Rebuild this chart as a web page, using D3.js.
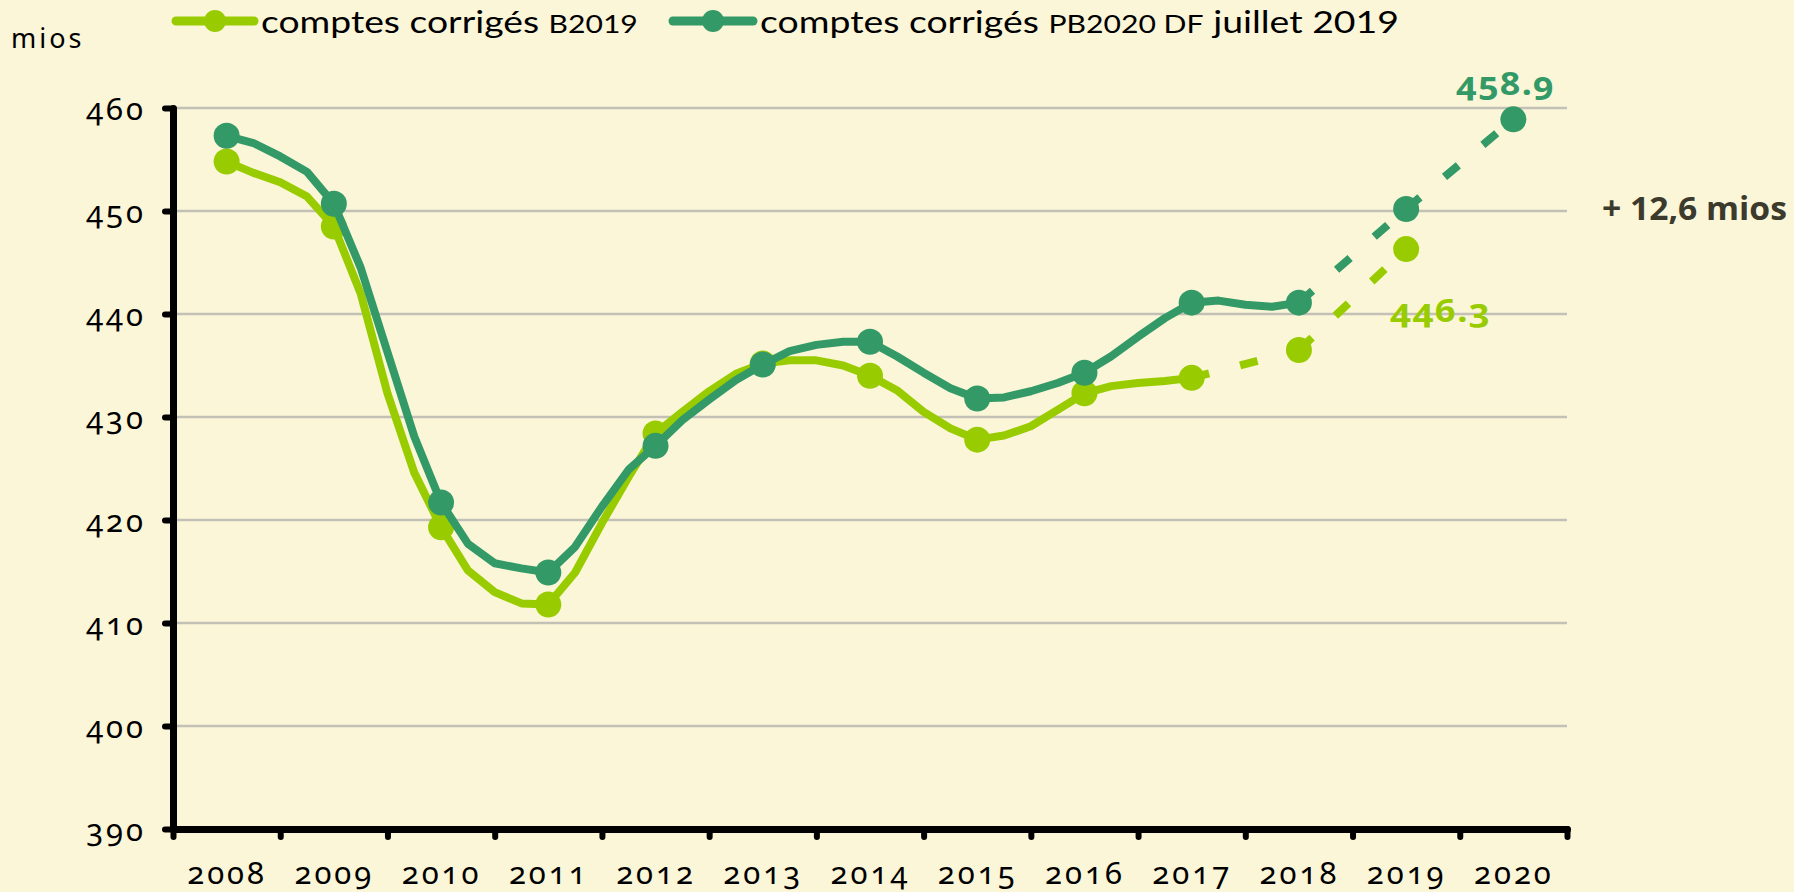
<!DOCTYPE html>
<html><head><meta charset="utf-8">
<script src="https://cdn.jsdelivr.net/npm/d3@7"></script>
<style>
html,body{margin:0;padding:0;background:#FBF6D8;}
svg{display:block;}
.num{font-family:"Noto Sans",Lato,sans-serif;font-variant-numeric:oldstyle-nums;font-feature-settings:"onum" 1;}
</style></head><body>
<svg id="c" width="1794" height="892"></svg>
<script>
// ---------- DATA ----------
const years = [2008,2009,2010,2011,2012,2013,2014,2015,2016,2017,2018,2019,2020];
const yTicks = [390,400,410,420,430,440,450,460];
// quarterly values, first value = mid 2008, step = one quarter
const b2019Quarterly = [454.8,453.7,452.8,451.4,448.5,442.0,432.3,424.6,419.3,415.1,413.0,411.9,411.8,
  414.9,419.7,424.2,428.4,430.5,432.5,434.2,435.2,435.5,435.5,435.0,434.0,432.6,430.5,428.9,427.8,
  428.2,429.1,430.7,432.3,433.0,433.3,433.5,433.8];
const pb2020Quarterly = [457.3,456.6,455.3,453.8,450.7,444.5,436.3,428.1,421.7,417.7,415.8,415.3,414.9,
  417.4,421.3,424.9,427.2,429.7,431.7,433.6,435.1,436.4,437.0,437.3,437.3,435.9,434.3,432.8,431.8,
  431.9,432.5,433.3,434.3,435.9,437.8,439.6,441.1,441.3,440.9,440.7,441.1];
// annual forecast points (dashed)
const b2019ForecastYears = [2017,2018,2019];
const b2019ForecastValues = [433.8,436.5,446.3];
const pb2020ForecastYears = [2018,2019,2020];
const pb2020ForecastValues = [441.1,450.2,458.9];
const diffLabel = "+ 12,6 mios";
const lightColor = "#99CC00", darkColor = "#339966";

// ---------- SCALES ----------
const svg = d3.select("#c");
const x = d3.scaleLinear().domain([2008, 2021]).range([173, 1567]);
const y = d3.scaleLinear().domain([390, 460]).range([829, 108]);

// grid
svg.append("g").selectAll("line").data(yTicks.filter(v => v > 390)).join("line")
  .attr("x1", x(2008)).attr("x2", x(2021))
  .attr("y1", d => y(d)).attr("y2", d => y(d))
  .attr("stroke", "#C3C1B6").attr("stroke-width", 2.6);

const qPts = arr => arr.map((v, i) => [2008.5 + i * 0.25, v]);
const fPts = (ys, vs) => ys.map((yr, i) => [yr + 0.5, vs[i]]);
const line = d3.line().x(d => x(d[0])).y(d => y(d[1]));

function drawSeries(q, fy, fv, color) {
  const g = svg.append("g");
  const pts = qPts(q);
  g.append("path").datum(pts).attr("d", line).attr("fill", "none")
    .attr("stroke", color).attr("stroke-width", 8).attr("stroke-linejoin", "round");
  const fp = fPts(fy, fv);
  for (let i = 0; i < fp.length - 1; i++) {
    g.append("path").datum([fp[i], fp[i + 1]]).attr("d", line).attr("fill", "none")
      .attr("stroke", color).attr("stroke-width", 8).attr("stroke-dasharray", "18,32");
  }
  const markers = pts.filter((d, i) => i % 4 === 0).concat(fp.slice(1));
  g.selectAll("circle").data(markers).join("circle")
    .attr("cx", d => x(d[0])).attr("cy", d => y(d[1])).attr("r", 13).attr("fill", color);
}
drawSeries(b2019Quarterly, b2019ForecastYears, b2019ForecastValues, lightColor);
drawSeries(pb2020Quarterly, pb2020ForecastYears, pb2020ForecastValues, darkColor);

// ---------- AXES ----------
const yAxis = svg.append("g").attr("transform", `translate(${x(2008)},0)`)
  .call(d3.axisLeft(y).tickValues(yTicks).tickSize(8).tickSizeOuter(0).tickPadding(19));
const xAxis = svg.append("g").attr("transform", `translate(0,${y(390)})`)
  .call(d3.axisBottom(x).tickValues(d3.range(2008, 2022)).tickSize(8).tickSizeOuter(0).tickFormat(""));
const xLab = svg.append("g").attr("transform", `translate(0,${y(390)})`)
  .call(d3.axisBottom(x).tickValues(years.map(d => d + 0.5)).tickSize(0).tickFormat(d => Math.floor(d)));
xLab.select(".domain").remove();

[yAxis, xAxis].forEach(a => {
  a.select(".domain").attr("stroke", "#000").attr("stroke-width", 7).attr("stroke-linecap", "round");
  a.selectAll(".tick line").attr("stroke", "#000").attr("stroke-width", 6).attr("stroke-linecap", "round");
});
[yAxis, xAxis, xLab].forEach(a => a.attr("font-family", null).attr("font-size", null));
yAxis.selectAll(".tick text").attr("class", "num").attr("font-size", 31).attr("fill", "#000")
  .attr("letter-spacing", 3).attr("dy", 11);
xLab.selectAll(".tick text").attr("class", "num").attr("font-size", 31).attr("fill", "#000")
  .attr("letter-spacing", 3).attr("y", 55).attr("dy", 0);

// ---------- TEXTS ----------
svg.append("text").attr("class", "num").attr("x", 11).attr("y", 48).attr("font-size", 27)
  .attr("letter-spacing", 3).attr("fill", "#000").text("mios");

function fitWidth(sel, x0, width) {
  const w = sel.node().getComputedTextLength();
  sel.attr("x", 0).attr("transform", `translate(${x0},0) scale(${width / w},1)`);
}
function legend(x0, x1, tx, width, color, parts) {
  svg.append("line").attr("x1", x0).attr("x2", x1).attr("y1", 21).attr("y2", 21)
    .attr("stroke", color).attr("stroke-width", 9).attr("stroke-linecap", "round");
  svg.append("circle").attr("cx", (x0 + x1) / 2).attr("cy", 21).attr("r", 11).attr("fill", color);
  const t = svg.append("text").attr("y", 33).attr("font-family", "Lato, sans-serif")
    .attr("font-size", 31).attr("fill", "#000");
  parts.forEach(p => t.append("tspan").attr("font-size", p[1] ? 25 : 31).text(p[0]));
  fitWidth(t, tx, width);
}
legend(176, 254, 261, 377, lightColor, [["comptes corrigés ", false], ["B2019", true]]);
legend(673, 753, 760, 639, darkColor, [["comptes corrigés ", false], ["PB2020 DF", true], [" juillet 2019", false]]);

const l1 = svg.append("text").attr("class", "num").attr("y", 95).attr("font-size", 33)
  .attr("font-weight", 700).attr("fill", darkColor).attr("letter-spacing", 1)
  .text(d3.format(".1f")(pb2020ForecastValues[2]));
fitWidth(l1, 1456, 99);
const l2 = svg.append("text").attr("class", "num").attr("y", 322).attr("font-size", 33)
  .attr("font-weight", 700).attr("fill", lightColor).attr("letter-spacing", 1)
  .text(d3.format(".1f")(b2019ForecastValues[2]));
fitWidth(l2, 1390, 101);
const l3 = svg.append("text").attr("y", 220).attr("font-family", "Open Sans, sans-serif")
  .attr("font-size", 32).attr("font-weight", 700).attr("fill", "#3B3A2C").text(diffLabel);
fitWidth(l3, 1602, 185);
</script>
</body></html>
